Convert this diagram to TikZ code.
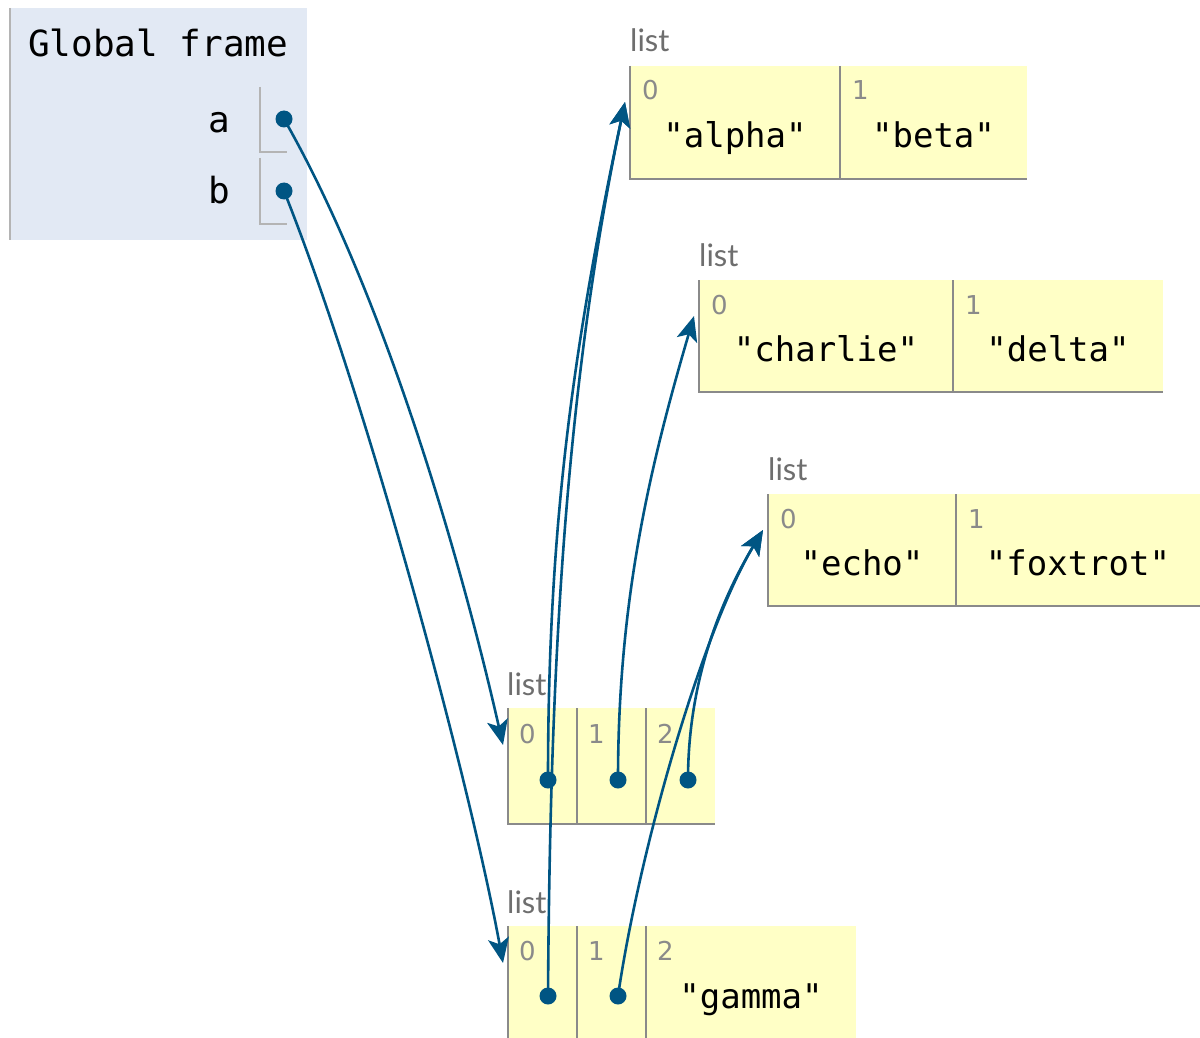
\documentclass[tikz,border=0pt]{standalone}
\usepackage{fontspec}
\setmonofont{DejaVu Sans Mono}
\newfontfamily\idxfamily{DejaVu Sans}
\newfontfamily\tagfamily{Lato}
\usetikzlibrary{arrows.meta,positioning}

\definecolor{frameBg}{HTML}{E2E9F4}
\definecolor{cellBg}{HTML}{FFFFC6}
\definecolor{lineGray}{HTML}{8A8A8A}
\definecolor{varGray}{HTML}{B4B4B4}
\definecolor{idxGray}{HTML}{8A8A8A}
\definecolor{tagGray}{HTML}{6E6E6E}
\definecolor{ptrBlue}{HTML}{005583}

\tikzset{
  cell/.style={fill=cellBg, anchor=north west, inner sep=0pt, outer sep=0pt},
  edge/.style={draw=lineGray, line width=1.6pt},
  varline/.style={draw=varGray, line width=1.4pt},
  tag/.style={font=\tagfamily\fontsize{31}{36}\selectfont, text=tagGray, anchor=base west, inner sep=0pt},
  idx/.style={font=\idxfamily\fontsize{26}{30}\selectfont, text=idxGray, anchor=base west, inner sep=0pt},
  val/.style={font=\ttfamily\fontsize{34}{40}\selectfont, anchor=base, inner sep=0pt},
  varname/.style={font=\ttfamily\fontsize{36}{42}\selectfont, anchor=base east, inner sep=0pt},
  ptr/.style={circle, fill=ptrBlue, inner sep=0pt, minimum size=17pt},
  ref/.style={draw=ptrBlue, line width=2.6pt, -{Stealth[length=25pt, width=21pt, inset=6pt]}}
}

\begin{document}
\begin{tikzpicture}[x=1pt,y=-1pt]
  \useasboundingbox (0,0) rectangle (1200,1038);

  % global frame
  \node[fill=frameBg, anchor=north west, inner sep=0pt, minimum width=297pt, minimum height=232pt] (gf) at (10,8) {};
  \draw[varline, line width=2pt] (gf.north west) -- (gf.south west);
  \node[varname, anchor=base west] (gftitle) at (28,57) {Global frame};
  \node[varname] (na) at (230,133) {a};
  \node[varname] (nb) at (230,204) {b};
  \draw[varline] (260,87) |- (287,152);
  \draw[varline] (260,158) |- (287,224);
  \node[ptr] (pa) at (284,119) {};
  \node[ptr] (pb) at (284,191) {};

  % list: alpha, beta
  \node[tag] (l1tag) at (630,52) {list};
  \node[cell, minimum width=210pt, minimum height=113pt] (l1c0) at (630,66) {};
  \node[cell, minimum width=187pt, minimum height=113pt, right=0pt of l1c0] (l1c1) {};
  \draw[edge] (l1c0.north west) |- (l1c1.south east);
  \draw[edge] (l1c1.north west) -- (l1c1.south west);
  \node[idx] (l1i0) at ([shift={(12pt,-34pt)}]l1c0.north west) {0};
  \node[idx] (l1i1) at ([shift={(12pt,-34pt)}]l1c1.north west) {1};
  \node[val] (l1v0) at ([yshift=-82pt]l1c0.north) {"alpha"};
  \node[val] (l1v1) at ([yshift=-82pt]l1c1.north) {"beta"};

  % list: charlie, delta
  \node[tag] (l2tag) at (699,266) {list};
  \node[cell, minimum width=254pt, minimum height=112pt] (l2c0) at (699,280) {};
  \node[cell, minimum width=210pt, minimum height=112pt, right=0pt of l2c0] (l2c1) {};
  \draw[edge] (l2c0.north west) |- (l2c1.south east);
  \draw[edge] (l2c1.north west) -- (l2c1.south west);
  \node[idx] (l2i0) at ([shift={(12pt,-34pt)}]l2c0.north west) {0};
  \node[idx] (l2i1) at ([shift={(12pt,-34pt)}]l2c1.north west) {1};
  \node[val] (l2v0) at ([yshift=-81pt]l2c0.north) {"charlie"};
  \node[val] (l2v1) at ([yshift=-81pt]l2c1.north) {"delta"};

  % list: echo, foxtrot
  \node[tag] (l3tag) at (768,480) {list};
  \node[cell, minimum width=188pt, minimum height=112pt] (l3c0) at (768,494) {};
  \node[cell, minimum width=244pt, minimum height=112pt, right=0pt of l3c0] (l3c1) {};
  \draw[edge] (l3c0.north west) |- (l3c1.south east);
  \draw[edge] (l3c1.north west) -- (l3c1.south west);
  \node[idx] (l3i0) at ([shift={(12pt,-34pt)}]l3c0.north west) {0};
  \node[idx] (l3i1) at ([shift={(12pt,-34pt)}]l3c1.north west) {1};
  \node[val] (l3v0) at ([yshift=-81pt]l3c0.north) {"echo"};
  \node[val] (l3v1) at ([yshift=-81pt]l3c1.north) {"foxtrot"};

  % list of three pointers
  \node[tag] (l4tag) at (507,695) {list};
  \node[cell, minimum width=69pt, minimum height=116pt] (l4c0) at (508,708) {};
  \node[cell, minimum width=69pt, minimum height=116pt, right=0pt of l4c0] (l4c1) {};
  \node[cell, minimum width=69pt, minimum height=116pt, right=0pt of l4c1] (l4c2) {};
  \draw[edge] (l4c0.north west) |- (l4c2.south east);
  \draw[edge] (l4c1.north west) -- (l4c1.south west);
  \draw[edge] (l4c2.north west) -- (l4c2.south west);
  \node[idx] (l4i0) at ([shift={(11pt,-35pt)}]l4c0.north west) {0};
  \node[idx] (l4i1) at ([shift={(11pt,-35pt)}]l4c1.north west) {1};
  \node[idx] (l4i2) at ([shift={(11pt,-35pt)}]l4c2.north west) {2};
  \node[ptr] (p40) at (548,780) {};
  \node[ptr] (p41) at (618,780) {};
  \node[ptr] (p42) at (688,780) {};

  % list of two pointers and gamma
  \node[tag] (l5tag) at (507,913) {list};
  \node[cell, minimum width=69pt, minimum height=112pt] (l5c0) at (508,926) {};
  \node[cell, minimum width=69pt, minimum height=112pt, right=0pt of l5c0] (l5c1) {};
  \node[cell, minimum width=210pt, minimum height=112pt, right=0pt of l5c1] (l5c2) {};
  \draw[edge] (l5c0.north west) -- (l5c0.south west);
  \draw[edge] (l5c1.north west) -- (l5c1.south west);
  \draw[edge] (l5c2.north west) -- (l5c2.south west);
  \node[idx] (l5i0) at ([shift={(11pt,-34pt)}]l5c0.north west) {0};
  \node[idx] (l5i1) at ([shift={(11pt,-34pt)}]l5c1.north west) {1};
  \node[idx] (l5i2) at ([shift={(11pt,-34pt)}]l5c2.north west) {2};
  \node[val] (l5v2) at ([yshift=-82pt]l5c2.north) {"gamma"};
  \node[ptr] (p50) at (548,996) {};
  \node[ptr] (p51) at (618,996) {};

  % where the references come in
  \coordinate (l1in) at ([shift={(-5pt,-36pt)}]l1c0.north west);
  \coordinate (l2in) at ([shift={(-5pt,-36pt)}]l2c0.north west);
  \coordinate (l3in) at ([shift={(-5pt,-36pt)}]l3c0.north west);
  \coordinate (l4in) at ([shift={(-5pt,-37pt)}]l4c0.north west);
  \coordinate (l5in) at ([shift={(-5pt,-37pt)}]l5c0.north west);

  % references
  \draw[ref] (pa.center) .. controls +(100,175) and +(-42,-185) .. (l4in);
  \draw[ref] (pb.center) .. controls +(82,205) and +(-34,-185) .. (l5in);
  \draw[ref] (p40.center) .. controls +(0,-250) and +(-53,250) .. (l1in);
  \draw[ref] (p50.center) .. controls +(2,-300) and +(-63,300) .. (l1in);
  \draw[ref] (p41.center) .. controls +(0,-180) and +(-44,150) .. (l2in);
  \draw[ref] (p42.center) .. controls +(0,-90) and +(-48,80) .. (l3in);
  \draw[ref] (p51.center) .. controls +(22,-150) and +(-60,100) .. (l3in);
\end{tikzpicture}
\end{document}
